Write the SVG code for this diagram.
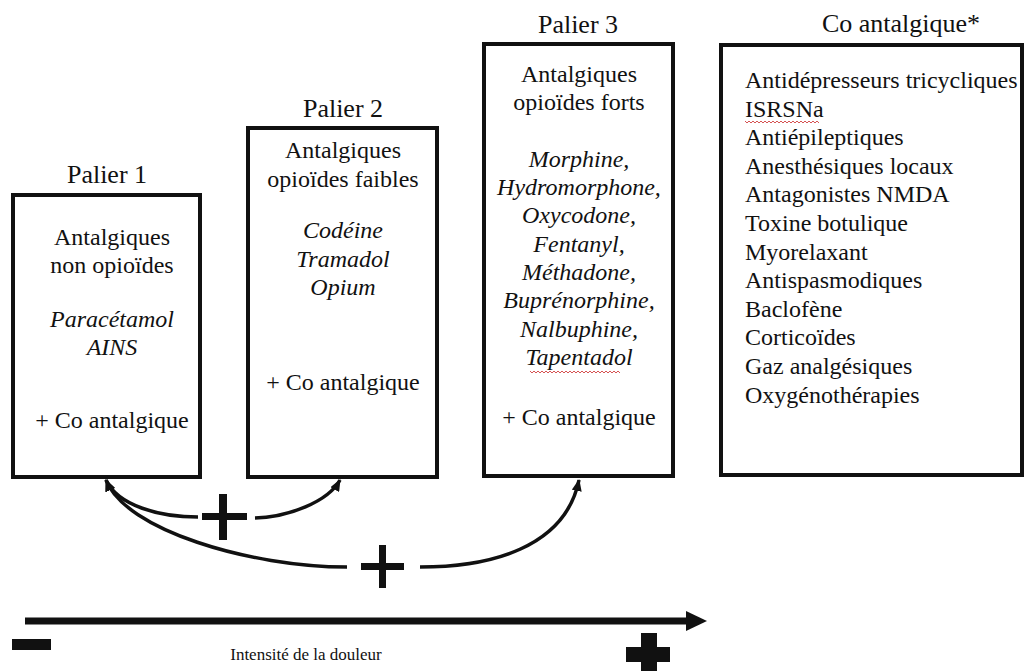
<svg xmlns="http://www.w3.org/2000/svg" width="1024" height="671" viewBox="0 0 1024 671">
<style>
text{font-family:"Liberation Serif","Times New Roman",serif;fill:#111}
.t{font-size:26px}
.b{font-size:24px}
.i{font-style:italic}
.c{text-anchor:middle}
.box{fill:#fff;stroke:#111;stroke-width:4}
.cv{fill:none;stroke:#111;stroke-width:3.5}
.sq{fill:none;stroke:#d04040;stroke-width:0.9}
</style>
<defs>
<marker id="ah" markerUnits="userSpaceOnUse" markerWidth="14" markerHeight="10" refX="11" refY="5" orient="auto-start-reverse">
<path d="M0,0 L12,5 L0,10 Z" fill="#111"/>
</marker>
</defs>
<rect width="1024" height="671" fill="#fff"/>

<g id="palier1">
<text class="t c" x="107" y="183">Palier 1</text>
<rect class="box" x="13" y="195" width="187" height="282"/>
<text class="b c" x="112" y="245">Antalgiques</text>
<text class="b c" x="112" y="273">non opioïdes</text>
<text class="b c i" x="112" y="327">Paracétamol</text>
<text class="b c i" x="112" y="355">AINS</text>
<text class="b c" x="112" y="428">+ Co antalgique</text>
</g>

<g id="palier2">
<text class="t c" x="343" y="117">Palier 2</text>
<rect class="box" x="248" y="128" width="189" height="349"/>
<text class="b c" x="343" y="158">Antalgiques</text>
<text class="b c" x="343" y="187">opioïdes faibles</text>
<text class="b c i" x="343" y="238">Codéine</text>
<text class="b c i" x="343" y="267">Tramadol</text>
<text class="b c i" x="343" y="295">Opium</text>
<text class="b c" x="343" y="390">+ Co antalgique</text>
</g>

<g id="palier3">
<text class="t c" x="578" y="33">Palier 3</text>
<rect class="box" x="484" y="44" width="189" height="432"/>
<text class="b c" x="579" y="82">Antalgiques</text>
<text class="b c" x="579" y="110">opioïdes forts</text>
<text class="b c i" x="579" y="167">Morphine,</text>
<text class="b c i" x="579" y="195">Hydromorphone,</text>
<text class="b c i" x="579" y="223">Oxycodone,</text>
<text class="b c i" x="579" y="252">Fentanyl,</text>
<text class="b c i" x="579" y="280">Méthadone,</text>
<text class="b c i" x="579" y="308">Buprénorphine,</text>
<text class="b c i" x="579" y="337">Nalbuphine,</text>
<text class="b c i" x="579" y="365">Tapentadol</text>
<path class="sq" d="M530,371 l2,2 l2,-2 l2,2 l2,-2 l2,2 l2,-2 l2,2 l2,-2 l2,2 l2,-2 l2,2 l2,-2 l2,2 l2,-2 l2,2 l2,-2 l2,2 l2,-2 l2,2 l2,-2 l2,2 l2,-2 l2,2 l2,-2 l2,2 l2,-2 l2,2 l2,-2 l2,2 l2,-2 l2,2 l2,-2 l2,2 l2,-2 l2,2 l2,-2 l2,2 l2,-2 l2,2 l2,-2 l2,2 l2,-2 l2,2 l2,-2 l2,2"/>
<text class="b c" x="579" y="425">+ Co antalgique</text>
</g>

<g id="co-antalgique">
<text class="t c" x="901" y="32">Co antalgique*</text>
<rect class="box" x="721" y="45" width="301" height="430"/>
<text class="b" x="745" y="88">Antidépresseurs tricycliques</text>
<text class="b" x="745" y="117">ISRSNa</text>
<path class="sq" d="M745,121 l2,2 l2,-2 l2,2 l2,-2 l2,2 l2,-2 l2,2 l2,-2 l2,2 l2,-2 l2,2 l2,-2 l2,2 l2,-2 l2,2 l2,-2 l2,2 l2,-2 l2,2 l2,-2 l2,2 l2,-2 l2,2 l2,-2 l2,2 l2,-2 l2,2 l2,-2 l2,2 l2,-2 l2,2 l2,-2 l2,2 l2,-2 l2,2 l2,-2 l2,2"/>
<text class="b" x="745" y="145">Antiépileptiques</text>
<text class="b" x="745" y="174">Anesthésiques locaux</text>
<text class="b" x="745" y="202">Antagonistes NMDA</text>
<text class="b" x="745" y="231">Toxine botulique</text>
<text class="b" x="745" y="260">Myorelaxant</text>
<text class="b" x="745" y="288">Antispasmodiques</text>
<text class="b" x="745" y="317">Baclofène</text>
<text class="b" x="745" y="345">Corticoïdes</text>
<text class="b" x="745" y="374">Gaz analgésiques</text>
<text class="b" x="745" y="403">Oxygénothérapies</text>
</g>

<g id="connectors">
<path class="cv" d="M198,517 C160,517 118,506 106,480" marker-end="url(#ah)"/>
<path class="cv" d="M255,518 C288,517 328,502 340,480" marker-end="url(#ah)"/>
<path class="cv" d="M347,567 C250,567 125,530 106,480" marker-end="url(#ah)"/>
<path class="cv" d="M420,567 C490,567 565,548 579,480" marker-end="url(#ah)"/>
<rect x="202" y="513" width="45" height="7" fill="#111"/>
<rect x="219" y="494" width="8" height="46" fill="#111"/>
<rect x="361" y="563" width="43" height="7" fill="#111"/>
<rect x="379" y="545" width="7" height="43" fill="#111"/>
</g>

<g id="axis">
<rect x="25" y="617.5" width="663" height="7" fill="#111"/>
<path d="M686,611 L707,621 L686,631 Z" fill="#111"/>
<rect x="12" y="639" width="39" height="11" fill="#111"/>
<rect x="641" y="633" width="16" height="38" fill="#111"/>
<rect x="626" y="647" width="44" height="15" fill="#111"/>
<text x="306" y="660" class="c" font-size="17">Intensité de la douleur</text>
</g>
</svg>
